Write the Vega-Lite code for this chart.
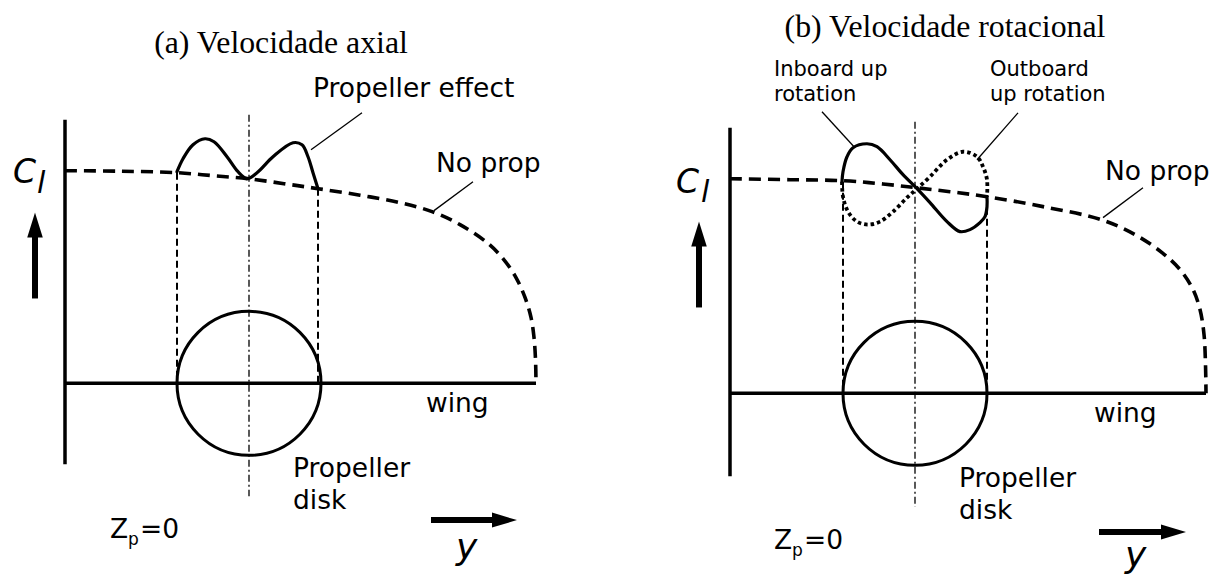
{
  "$schema": "https://vega.github.io/schema/vega-lite/v6.json",
  "width": 1223,
  "height": 574,
  "autosize": {"type": "fit", "contains": "padding"},
  "padding": 0,
  "background": "white",
  "config": {"view": {"stroke": null}},
  "datasets": {
    "paths": [
      {"id": "noprop_a", "k": 0, "x": 65, "y": 171},
      {"id": "noprop_a", "k": 1, "x": 120, "y": 171.5},
      {"id": "noprop_a", "k": 2, "x": 177, "y": 173},
      {"id": "noprop_a", "k": 3, "x": 213, "y": 176},
      {"id": "noprop_a", "k": 4, "x": 248, "y": 179},
      {"id": "noprop_a", "k": 5, "x": 284, "y": 184},
      {"id": "noprop_a", "k": 6, "x": 318, "y": 189},
      {"id": "noprop_a", "k": 7, "x": 360, "y": 195.5},
      {"id": "noprop_a", "k": 8, "x": 400, "y": 203},
      {"id": "noprop_a", "k": 9, "x": 432, "y": 212},
      {"id": "noprop_a", "k": 10, "x": 460, "y": 225},
      {"id": "noprop_a", "k": 11, "x": 487, "y": 243},
      {"id": "noprop_a", "k": 12, "x": 503, "y": 259},
      {"id": "noprop_a", "k": 13, "x": 516, "y": 278},
      {"id": "noprop_a", "k": 14, "x": 525, "y": 298},
      {"id": "noprop_a", "k": 15, "x": 531, "y": 318},
      {"id": "noprop_a", "k": 16, "x": 534, "y": 338},
      {"id": "noprop_a", "k": 17, "x": 535.5, "y": 360},
      {"id": "noprop_a", "k": 18, "x": 536, "y": 384},

      {"id": "noprop_b", "k": 0, "x": 730, "y": 179},
      {"id": "noprop_b", "k": 1, "x": 790, "y": 180},
      {"id": "noprop_b", "k": 2, "x": 843, "y": 181},
      {"id": "noprop_b", "k": 3, "x": 880, "y": 184},
      {"id": "noprop_b", "k": 4, "x": 916, "y": 188},
      {"id": "noprop_b", "k": 5, "x": 950, "y": 192},
      {"id": "noprop_b", "k": 6, "x": 987, "y": 197},
      {"id": "noprop_b", "k": 7, "x": 1043, "y": 207},
      {"id": "noprop_b", "k": 8, "x": 1101, "y": 220},
      {"id": "noprop_b", "k": 9, "x": 1135, "y": 235},
      {"id": "noprop_b", "k": 10, "x": 1162, "y": 253},
      {"id": "noprop_b", "k": 11, "x": 1180, "y": 270},
      {"id": "noprop_b", "k": 12, "x": 1193, "y": 290},
      {"id": "noprop_b", "k": 13, "x": 1200, "y": 310},
      {"id": "noprop_b", "k": 14, "x": 1204, "y": 335},
      {"id": "noprop_b", "k": 15, "x": 1205.5, "y": 365},
      {"id": "noprop_b", "k": 16, "x": 1206, "y": 394},

      {"id": "effect", "k": 0, "x": 177, "y": 172},
      {"id": "effect", "k": 1, "x": 183, "y": 159},
      {"id": "effect", "k": 2, "x": 193, "y": 145},
      {"id": "effect", "k": 3, "x": 205, "y": 139},
      {"id": "effect", "k": 4, "x": 214, "y": 142},
      {"id": "effect", "k": 5, "x": 227, "y": 157},
      {"id": "effect", "k": 6, "x": 238, "y": 172},
      {"id": "effect", "k": 7, "x": 247, "y": 179},
      {"id": "effect", "k": 8, "x": 257, "y": 173},
      {"id": "effect", "k": 9, "x": 273, "y": 157},
      {"id": "effect", "k": 10, "x": 293, "y": 143},
      {"id": "effect", "k": 11, "x": 302, "y": 145},
      {"id": "effect", "k": 12, "x": 308, "y": 157},
      {"id": "effect", "k": 13, "x": 313, "y": 173},
      {"id": "effect", "k": 14, "x": 318, "y": 189},

      {"id": "inboard", "k": 0, "x": 842, "y": 182},
      {"id": "inboard", "k": 1, "x": 843, "y": 172},
      {"id": "inboard", "k": 2, "x": 847, "y": 157},
      {"id": "inboard", "k": 3, "x": 853, "y": 148},
      {"id": "inboard", "k": 4, "x": 867, "y": 144},
      {"id": "inboard", "k": 5, "x": 877, "y": 147},
      {"id": "inboard", "k": 6, "x": 890, "y": 160},
      {"id": "inboard", "k": 7, "x": 903, "y": 175},
      {"id": "inboard", "k": 8, "x": 917, "y": 189},
      {"id": "inboard", "k": 9, "x": 930, "y": 203},
      {"id": "inboard", "k": 10, "x": 947, "y": 222},
      {"id": "inboard", "k": 11, "x": 960, "y": 232},
      {"id": "inboard", "k": 12, "x": 970, "y": 230},
      {"id": "inboard", "k": 13, "x": 980, "y": 223},
      {"id": "inboard", "k": 14, "x": 985, "y": 217},
      {"id": "inboard", "k": 15, "x": 987, "y": 207},
      {"id": "inboard", "k": 16, "x": 987, "y": 197},

      {"id": "outboard", "k": 0, "x": 842, "y": 182},
      {"id": "outboard", "k": 1, "x": 843, "y": 197},
      {"id": "outboard", "k": 2, "x": 848, "y": 212},
      {"id": "outboard", "k": 3, "x": 857, "y": 222},
      {"id": "outboard", "k": 4, "x": 868, "y": 225},
      {"id": "outboard", "k": 5, "x": 880, "y": 222},
      {"id": "outboard", "k": 6, "x": 893, "y": 212},
      {"id": "outboard", "k": 7, "x": 907, "y": 198},
      {"id": "outboard", "k": 8, "x": 917, "y": 189},
      {"id": "outboard", "k": 9, "x": 930, "y": 177},
      {"id": "outboard", "k": 10, "x": 947, "y": 160},
      {"id": "outboard", "k": 11, "x": 963, "y": 152},
      {"id": "outboard", "k": 12, "x": 977, "y": 157},
      {"id": "outboard", "k": 13, "x": 983, "y": 167},
      {"id": "outboard", "k": 14, "x": 987, "y": 180},
      {"id": "outboard", "k": 15, "x": 987, "y": 197}
    ],
    "segs": [
      {"role": "frame", "x": 65, "y": 120, "x2": 65, "y2": 465},
      {"role": "frame", "x": 730, "y": 128, "x2": 730, "y2": 477},
      {"role": "frame", "x": 65, "y": 384, "x2": 536, "y2": 384},
      {"role": "frame", "x": 730, "y": 394, "x2": 1206, "y2": 394},
      {"role": "leader", "x": 311, "y": 150, "x2": 362, "y2": 113},
      {"role": "leader", "x": 434, "y": 211, "x2": 473, "y2": 182},
      {"role": "leader", "x": 822, "y": 112, "x2": 854, "y2": 147},
      {"role": "leader", "x": 1018, "y": 113, "x2": 977, "y2": 160},
      {"role": "leader", "x": 1103, "y": 218, "x2": 1143, "y2": 188},
      {"role": "edge", "x": 177, "y": 173, "x2": 177, "y2": 384},
      {"role": "edge", "x": 318, "y": 189, "x2": 318, "y2": 384},
      {"role": "edge", "x": 843, "y": 182, "x2": 843, "y2": 394},
      {"role": "edge", "x": 987, "y": 197, "x2": 987, "y2": 394},
      {"role": "hub", "x": 249, "y": 115, "x2": 249, "y2": 497},
      {"role": "hub", "x": 915, "y": 122, "x2": 915, "y2": 508},
      {"role": "shaft", "x": 35, "y": 237, "x2": 35, "y2": 299},
      {"role": "shaft", "x": 699, "y": 246, "x2": 699, "y2": 308},
      {"role": "shaft", "x": 431, "y": 521, "x2": 494, "y2": 521},
      {"role": "shaft", "x": 1099, "y": 533, "x2": 1162, "y2": 533}
    ],
    "disks": [
      {"x": 249, "y": 384},
      {"x": 915, "y": 394}
    ],
    "heads": [
      {"dir": "up", "x": 35, "y": 225.5},
      {"dir": "up", "x": 699, "y": 234.5},
      {"dir": "right", "x": 504.5, "y": 521},
      {"dir": "right", "x": 1173.5, "y": 533}
    ],
    "words": [
      {"style": "title", "text": "(a) Velocidade axial", "x": 281, "y": 53},
      {"style": "title", "text": "(b) Velocidade rotacional", "x": 945, "y": 37},
      {"style": "label", "text": "Propeller effect", "x": 313, "y": 97},
      {"style": "label", "text": "No prop", "x": 436, "y": 172},
      {"style": "label", "text": "wing", "x": 426, "y": 413},
      {"style": "label", "text": "Propeller", "x": 293, "y": 478},
      {"style": "label", "text": "disk", "x": 293, "y": 510},
      {"style": "label", "text": "No prop", "x": 1105, "y": 180},
      {"style": "label", "text": "wing", "x": 1094, "y": 423},
      {"style": "label", "text": "Propeller", "x": 959, "y": 488},
      {"style": "label", "text": "disk", "x": 959, "y": 520},
      {"style": "label", "text": "Z", "x": 110, "y": 539},
      {"style": "label", "text": "=0", "x": 140, "y": 539},
      {"style": "label", "text": "Z", "x": 774, "y": 550},
      {"style": "label", "text": "=0", "x": 804, "y": 550},
      {"style": "sub", "text": "p", "x": 128, "y": 546},
      {"style": "sub", "text": "p", "x": 792, "y": 557},
      {"style": "small", "text": "Inboard up", "x": 774, "y": 76},
      {"style": "small", "text": "rotation", "x": 774, "y": 101},
      {"style": "small", "text": "Outboard", "x": 990, "y": 76},
      {"style": "small", "text": "up rotation", "x": 990, "y": 101},
      {"style": "cl", "text": "C", "x": 13, "y": 183},
      {"style": "cl", "text": "C", "x": 676, "y": 193},
      {"style": "clsub", "text": "l", "x": 37, "y": 193},
      {"style": "clsub", "text": "l", "x": 701, "y": 202},
      {"style": "var", "text": "y", "x": 456, "y": 560},
      {"style": "var", "text": "y", "x": 1125, "y": 568}
    ]
  },
  "encoding": {
    "x": {"field": "x", "type": "quantitative", "scale": {"domain": [0, 1223], "nice": false, "zero": false}, "axis": null},
    "y": {"field": "y", "type": "quantitative", "scale": {"domain": [0, 574], "nice": false, "zero": false, "reverse": true}, "axis": null}
  },
  "layer": [
    {
      "data": {"name": "segs"},
      "transform": [{"filter": "datum.role === 'hub'"}],
      "mark": {"type": "rule", "color": "black", "strokeWidth": 1.3, "strokeDash": [7, 3, 2, 3]},
      "encoding": {"x2": {"field": "x2"}, "y2": {"field": "y2"}}
    },
    {
      "data": {"name": "segs"},
      "transform": [{"filter": "datum.role === 'edge'"}],
      "mark": {"type": "rule", "color": "black", "strokeWidth": 2, "strokeDash": [7, 4]},
      "encoding": {"x2": {"field": "x2"}, "y2": {"field": "y2"}}
    },
    {
      "data": {"name": "segs"},
      "transform": [{"filter": "datum.role === 'leader'"}],
      "mark": {"type": "rule", "color": "black", "strokeWidth": 1.3},
      "encoding": {"x2": {"field": "x2"}, "y2": {"field": "y2"}}
    },
    {
      "data": {"name": "segs"},
      "transform": [{"filter": "datum.role === 'frame'"}],
      "mark": {"type": "rule", "color": "black", "strokeWidth": 3.5},
      "encoding": {"x2": {"field": "x2"}, "y2": {"field": "y2"}}
    },
    {
      "data": {"name": "segs"},
      "transform": [{"filter": "datum.role === 'shaft'"}],
      "mark": {"type": "rule", "color": "black", "strokeWidth": 6},
      "encoding": {"x2": {"field": "x2"}, "y2": {"field": "y2"}}
    },
    {
      "data": {"name": "paths"},
      "transform": [{"filter": "datum.id === 'noprop_a' || datum.id === 'noprop_b'"}],
      "mark": {"type": "line", "color": "black", "strokeWidth": 3.6, "strokeDash": [12, 7], "interpolate": "catmull-rom"},
      "encoding": {"detail": {"field": "id"}, "order": {"field": "k", "type": "quantitative"}}
    },
    {
      "data": {"name": "paths"},
      "transform": [{"filter": "datum.id === 'effect' || datum.id === 'inboard'"}],
      "mark": {"type": "line", "color": "black", "strokeWidth": 3.2, "interpolate": "catmull-rom", "strokeJoin": "round", "strokeCap": "round"},
      "encoding": {"detail": {"field": "id"}, "order": {"field": "k", "type": "quantitative"}}
    },
    {
      "data": {"name": "paths"},
      "transform": [{"filter": "datum.id === 'outboard'"}],
      "mark": {"type": "line", "color": "black", "strokeWidth": 3.8, "strokeDash": [3.5, 3], "interpolate": "catmull-rom"},
      "encoding": {"order": {"field": "k", "type": "quantitative"}}
    },
    {
      "data": {"name": "disks"},
      "mark": {"type": "point", "shape": "circle", "size": 20736, "filled": false, "color": "black", "strokeWidth": 3, "opacity": 1}
    },
    {
      "data": {"name": "heads"},
      "transform": [{"filter": "datum.dir === 'up'"}],
      "mark": {"type": "point", "shape": "M0,-1L0.62,1L-0.62,1Z", "size": 625, "filled": true, "color": "black", "opacity": 1, "strokeWidth": 0}
    },
    {
      "data": {"name": "heads"},
      "transform": [{"filter": "datum.dir === 'right'"}],
      "mark": {"type": "point", "shape": "M1,0L-1,0.6L-1,-0.6Z", "size": 625, "filled": true, "color": "black", "opacity": 1, "strokeWidth": 0}
    },
    {
      "data": {"name": "words"},
      "transform": [{"filter": "datum.style === 'title'"}],
      "mark": {"type": "text", "font": "Liberation Serif", "fontSize": 31.8, "align": "center", "baseline": "alphabetic", "color": "black"},
      "encoding": {"text": {"field": "text"}}
    },
    {
      "data": {"name": "words"},
      "transform": [{"filter": "datum.style === 'label'"}],
      "mark": {"type": "text", "font": "DejaVu Sans", "fontSize": 26.5, "align": "left", "baseline": "alphabetic", "color": "black"},
      "encoding": {"text": {"field": "text"}}
    },
    {
      "data": {"name": "words"},
      "transform": [{"filter": "datum.style === 'sub'"}],
      "mark": {"type": "text", "font": "DejaVu Sans", "fontSize": 17, "align": "left", "baseline": "alphabetic", "color": "black"},
      "encoding": {"text": {"field": "text"}}
    },
    {
      "data": {"name": "words"},
      "transform": [{"filter": "datum.style === 'small'"}],
      "mark": {"type": "text", "font": "DejaVu Sans", "fontSize": 21, "align": "left", "baseline": "alphabetic", "color": "black"},
      "encoding": {"text": {"field": "text"}}
    },
    {
      "data": {"name": "words"},
      "transform": [{"filter": "datum.style === 'cl'"}],
      "mark": {"type": "text", "font": "DejaVu Sans", "fontStyle": "italic", "fontSize": 33, "align": "left", "baseline": "alphabetic", "color": "black"},
      "encoding": {"text": {"field": "text"}}
    },
    {
      "data": {"name": "words"},
      "transform": [{"filter": "datum.style === 'clsub'"}],
      "mark": {"type": "text", "font": "DejaVu Sans", "fontStyle": "italic", "fontSize": 30, "align": "left", "baseline": "alphabetic", "color": "black"},
      "encoding": {"text": {"field": "text"}}
    },
    {
      "data": {"name": "words"},
      "transform": [{"filter": "datum.style === 'var'"}],
      "mark": {"type": "text", "font": "DejaVu Sans", "fontStyle": "italic", "fontSize": 36, "align": "left", "baseline": "alphabetic", "color": "black"},
      "encoding": {"text": {"field": "text"}}
    }
  ]
}
